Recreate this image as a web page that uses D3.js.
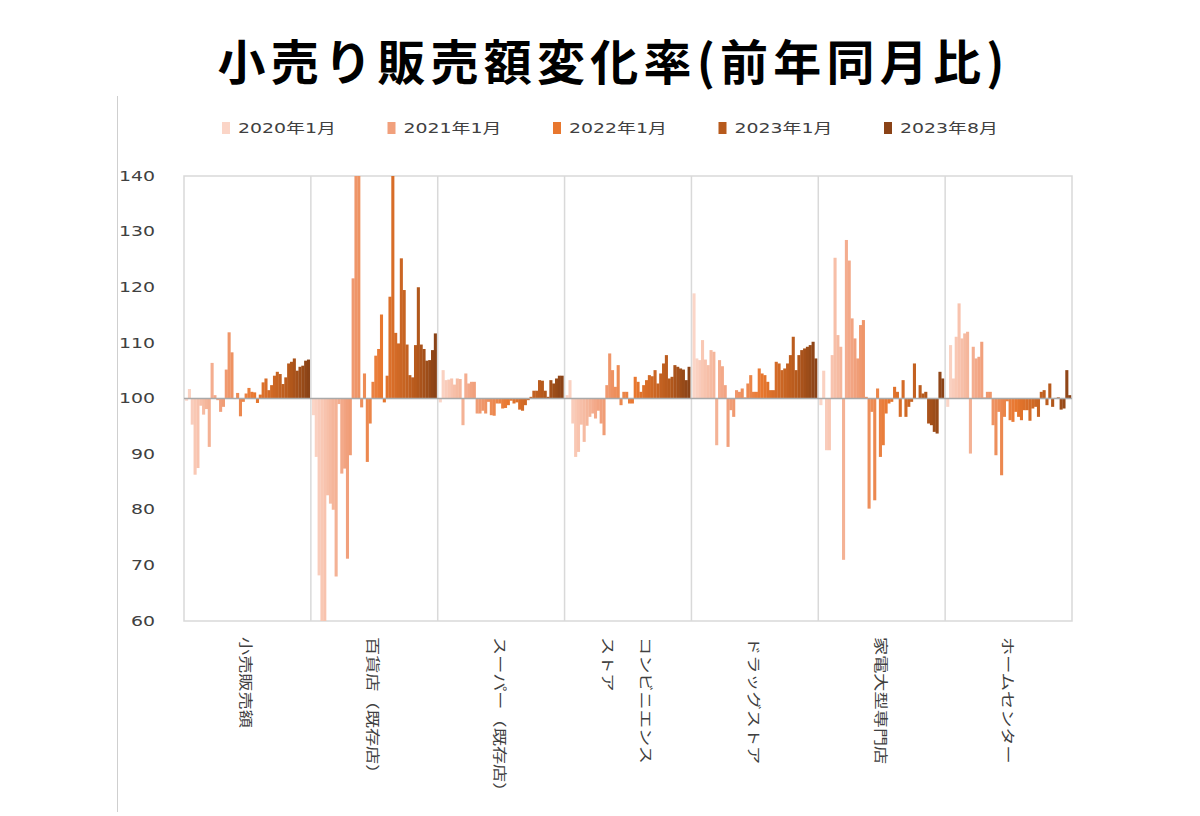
<!DOCTYPE html>
<html><head><meta charset="utf-8">
<script src="https://cdn.jsdelivr.net/npm/d3@7"></script>
<style>
html,body{margin:0;padding:0;background:#fff;}
svg{display:block;}
</style></head><body>
<svg id="chart" width="1200" height="816"></svg>
<script>
// ---- data ----
const titleText = "小売り販売額変化率(前年同月比)";
const categories = ["小売販売額", "百貨店（既存店）", "スーパー（既存店）", "コンビニエンス\nストア", "ドラッグストア", "家電大型専門店", "ホームセンター"];
const legendLabels = ["2020年1月", "2021年1月", "2022年1月", "2023年1月", "2023年8月"];
const legendMonthIndex = [0, 12, 24, 36, 43];
const legendColors = ["#fbd5c7", "#f1a07c", "#e8772e", "#b75a1c", "#8a4317"];
const yTicks = [60, 70, 80, 90, 100, 110, 120, 130, 140];

// monthly index (前年同月比, 100 = no change), Jan 2020 .. Aug 2023
const retail = [99.6,101.7,95.3,86.3,87.5,98.7,97.1,98.1,91.3,106.4,100.6,99.7,97.6,98.5,105.2,111.9,108.3,99.9,101.0,96.8,99.4,100.9,101.9,101.2,101.1,99.2,100.7,102.9,103.6,101.5,102.4,104.1,104.8,104.4,102.6,103.8,106.3,106.6,107.2,105.0,105.7,105.9,106.8,107.0];
const deptStore = [97.0,89.5,68.2,27.2,34.4,82.6,81.1,80.0,68.0,99.0,86.5,87.4,71.2,89.8,121.6,256.8,168.6,98.4,104.5,88.6,95.5,103.0,107.7,108.9,115.1,99.3,104.1,118.3,158.7,111.8,109.9,125.2,119.5,109.7,104.2,103.8,109.6,120.0,109.7,108.9,106.8,106.9,108.7,111.7];
const supermarket = [99.3,105.1,103.3,103.4,103.6,102.5,103.6,103.5,95.2,104.5,102.7,103.0,103.0,97.3,97.3,97.8,97.3,99.4,97.0,96.9,99.1,99.1,98.2,98.3,98.8,99.6,99.1,99.3,98.0,97.8,98.8,99.7,100.3,101.4,101.4,103.3,103.2,101.4,100.3,103.3,102.7,103.6,104.1,104.1];
const convenience = [100.6,103.3,95.5,89.5,90.4,95.3,92.2,95.1,96.7,97.3,96.4,97.8,95.5,93.4,102.4,108.1,105.1,102.1,106.0,98.8,101.2,101.2,99.1,99.1,103.9,103.0,101.2,102.4,103.3,104.2,104.0,105.1,102.7,104.5,106.3,107.8,103.6,103.9,106.0,105.7,105.4,105.2,103.3,105.7];
const drugstore = [118.9,107.2,106.9,110.5,107.0,106.0,108.7,108.4,91.6,106.9,105.8,102.4,91.3,97.9,96.7,101.5,101.2,101.8,100.2,102.7,104.2,101.2,101.2,105.4,104.5,104.2,103.0,101.5,101.5,106.6,106.3,105.1,105.4,106.3,107.8,111.1,105.1,107.8,108.7,109.0,109.3,109.6,110.2,107.2];
const electronics = [98.8,105.0,90.7,90.7,107.8,125.3,111.4,109.3,71.0,128.5,124.8,114.4,110.8,107.2,113.2,114.1,100.3,80.2,97.6,81.7,101.8,89.5,91.6,97.3,99.1,99.4,102.1,101.2,96.7,103.3,96.7,98.5,99.4,106.3,100.0,102.4,100.9,101.2,95.5,95.2,94.0,93.7,104.8,103.6];
const homeCenter = [98.5,109.6,103.6,111.1,117.1,110.8,111.7,112.0,90.1,109.3,107.2,107.5,110.2,100.2,101.2,101.2,95.2,89.8,97.6,86.2,96.7,99.5,96.1,95.8,97.6,96.7,96.1,97.9,97.9,96.0,98.2,98.5,96.7,101.2,101.5,98.8,102.7,98.5,100.1,100.2,98.0,98.2,105.1,100.6];

const seriesByCategory = [retail, deptStore, supermarket, convenience, drugstore, electronics, homeCenter];

// ---- layout ----
const W = 1200, H = 816;
const plot = {left: 184, right: 1072, top: 176, bottom: 621};
const svg = d3.select("#chart");
const numFont = "'DejaVu Sans', 'Noto Sans CJK JP', sans-serif";
const cjkFont = "'Noto Sans CJK JP', 'DejaVu Sans', sans-serif";
const stretch = 1.35;

const y = d3.scaleLinear().domain([60, 140]).range([plot.bottom, plot.top]).clamp(true);
const x0 = d3.scaleBand().domain(categories).range([plot.left, plot.right]).padding(0);
const nMonths = retail.length;
const x1 = d3.scaleBand().domain(d3.range(nMonths)).range([0, x0.bandwidth()]).paddingInner(0).paddingOuter(0.37);
const color = d3.scaleLinear().domain(legendMonthIndex).range(legendColors).interpolate(d3.interpolateRgb);

// left thin rule
svg.append("line").attr("x1", 117.5).attr("x2", 117.5).attr("y1", 96).attr("y2", 812)
  .attr("stroke", "#cfcfcf").attr("stroke-width", 1);

// title
svg.append("text").text(titleText)
  .attr("x", 611).attr("y", 59)
  .attr("text-anchor", "middle").attr("dominant-baseline", "central")
  .attr("font-family", cjkFont).attr("font-weight", 700).attr("font-size", 48)
  .attr("textLength", 787).attr("lengthAdjust", "spacing")
  .attr("fill", "#000");

// legend
const leg = svg.append("g");
legendLabels.forEach((lab, i) => {
  const g = leg.append("g").attr("transform", `translate(${222 + 165.5 * i},128)`);
  g.append("rect").attr("x", 0).attr("y", -6).attr("width", 8).attr("height", 12)
    .attr("fill", color(legendMonthIndex[i]));
  g.append("text").text(lab)
    .attr("transform", `translate(16,0) scale(${stretch},1)`)
    .attr("dominant-baseline", "central")
    .attr("font-family", numFont).attr("font-size", 14).attr("fill", "#404040");
});

// plot frame
svg.append("rect").attr("x", plot.left).attr("y", plot.top)
  .attr("width", plot.right - plot.left).attr("height", plot.bottom - plot.top)
  .attr("fill", "none").attr("stroke", "#d9d9d9").attr("stroke-width", 1.5);

// bars
const barsG = svg.append("g");
categories.forEach((cat, ci) => {
  const vals = seriesByCategory[ci];
  barsG.selectAll(null).data(vals).enter().append("rect")
    .attr("x", (d, i) => x0(cat) + x1(i))
    .attr("width", x1.bandwidth() + 0.25)
    .attr("y", d => y(Math.max(d, 100)))
    .attr("height", d => Math.abs(y(d) - y(100)))
    .attr("fill", (d, i) => color(i));
});

// panel dividers
svg.selectAll(null).data(categories.slice(1)).enter().append("line")
  .attr("x1", d => x0(d)).attr("x2", d => x0(d))
  .attr("y1", plot.top).attr("y2", plot.bottom)
  .attr("stroke", "#d9d9d9").attr("stroke-width", 1.5);

// baseline 100
svg.append("line").attr("x1", plot.left).attr("x2", plot.right)
  .attr("y1", y(100)).attr("y2", y(100))
  .attr("stroke", "#a9a9a9").attr("stroke-width", 1.5);

// y tick labels
svg.selectAll(null).data(yTicks).enter().append("text")
  .text(d => d)
  .attr("transform", d => `translate(155,${y(d)}) scale(${stretch},1)`)
  .attr("text-anchor", "end").attr("dominant-baseline", "central")
  .attr("font-family", numFont).attr("font-size", 14).attr("fill", "#404040");

// category labels (rotated, reading top to bottom)
categories.forEach(cat => {
  const lines = cat.split("\n");
  const cx = x0(cat) + x0.bandwidth() / 2 + (lines.length - 1) * 19;
  const t = svg.append("text")
    .attr("transform", `translate(${cx},637) rotate(90) scale(1.3,1)`)
    .attr("font-family", cjkFont).attr("font-size", 14).attr("fill", "#404040");
  lines.forEach((ln, j) => {
    t.append("tspan").text(ln).attr("x", 0).attr("y", j * 38)
      .attr("dominant-baseline", "central");
  });
});
</script>
</body></html>
